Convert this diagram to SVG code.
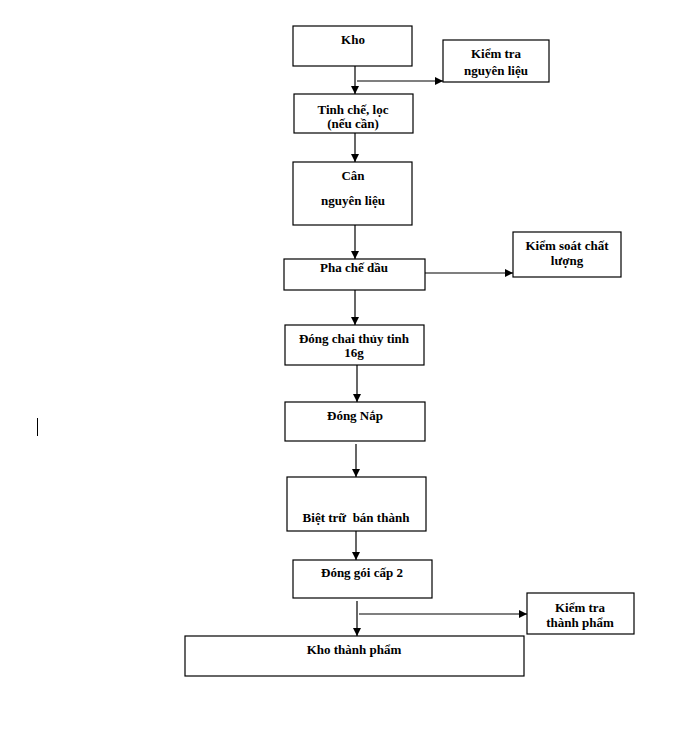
<svg xmlns="http://www.w3.org/2000/svg" width="687" height="743" viewBox="0 0 687 743">
<defs>
<marker id="ah" viewBox="0 0 10 10" refX="10" refY="5" markerWidth="8" markerHeight="8" markerUnits="userSpaceOnUse" orient="auto">
<path d="M0,0 L10,5 L0,10 z" fill="#000"/>
</marker>
<style>
.box{fill:#fff;stroke:#000;stroke-width:1.2}
.t{font-family:"Liberation Serif","Times New Roman",serif;font-weight:bold;font-size:13px;text-anchor:middle;fill:#000;white-space:pre}
.c{stroke:#000;stroke-width:1.2;fill:none;marker-end:url(#ah)}
</style>
</defs>
<rect width="687" height="743" fill="#fff"/>
<g id="kho"><rect class="box" x="293" y="26" width="119" height="40"/><text class="t" x="353" y="44">Kho</text></g>
<g id="kiemtra-nl"><rect class="box" x="443" y="40" width="106" height="42"/><text class="t" x="496" y="58">Kiểm tra</text><text class="t" x="496" y="75">nguyên liệu</text></g>
<g id="tinhche"><rect class="box" x="294" y="94" width="119" height="39"/><text class="t" x="353" y="114">Tinh chế, lọc</text><text class="t" x="353" y="128">(nếu cần)</text></g>
<g id="can"><rect class="box" x="293" y="162" width="119" height="63"/><text class="t" x="353" y="180">Cân</text><text class="t" x="353" y="205">nguyên liệu</text></g>
<g id="phache"><rect class="box" x="284" y="259" width="141" height="31"/><text class="t" x="354" y="272">Pha chế dầu</text></g>
<g id="kiemsoat"><rect class="box" x="513" y="232" width="108" height="45"/><text class="t" x="567" y="250">Kiểm soát chất</text><text class="t" x="567" y="265">lượng</text></g>
<g id="dongchai"><rect class="box" x="285" y="325" width="139" height="40"/><text class="t" x="354" y="343">Đóng chai thủy tinh</text><text class="t" x="354" y="357">16g</text></g>
<g id="dongnap"><rect class="box" x="285" y="402" width="140" height="39"/><text class="t" x="355" y="420">Đóng Nắp</text></g>
<g id="biettru"><rect class="box" x="287" y="477" width="139" height="54"/><text class="t" x="356" y="522" xml:space="preserve">Biệt trữ  bán thành</text></g>
<g id="donggoi"><rect class="box" x="293" y="560" width="139" height="38"/><text class="t" x="362" y="577">Đóng gói cấp 2</text></g>
<g id="kiemtra-tp"><rect class="box" x="527" y="593" width="107" height="41"/><text class="t" x="580" y="612">Kiểm tra</text><text class="t" x="580" y="627">thành phẩm</text></g>
<g id="khotp"><rect class="box" x="185" y="636" width="339" height="40"/><text class="t" x="354" y="654">Kho thành phẩm</text></g>
<g id="connectors">
<line class="c" x1="355" y1="66" x2="355" y2="94"/>
<line class="c" x1="357" y1="81" x2="443" y2="81"/>
<line class="c" x1="355" y1="133" x2="355" y2="162"/>
<line class="c" x1="355" y1="225" x2="355" y2="259"/>
<line class="c" x1="425" y1="273" x2="513" y2="273"/>
<line class="c" x1="355" y1="290" x2="355" y2="325"/>
<line class="c" x1="357" y1="365" x2="357" y2="402"/>
<line class="c" x1="356" y1="444" x2="356" y2="477"/>
<line class="c" x1="356" y1="531" x2="356" y2="560"/>
<line class="c" x1="357" y1="601" x2="357" y2="636"/>
<line class="c" x1="359" y1="614" x2="527" y2="614"/>
</g>
<line x1="37.5" y1="418" x2="37.5" y2="436" stroke="#000" stroke-width="1"/>
</svg>
